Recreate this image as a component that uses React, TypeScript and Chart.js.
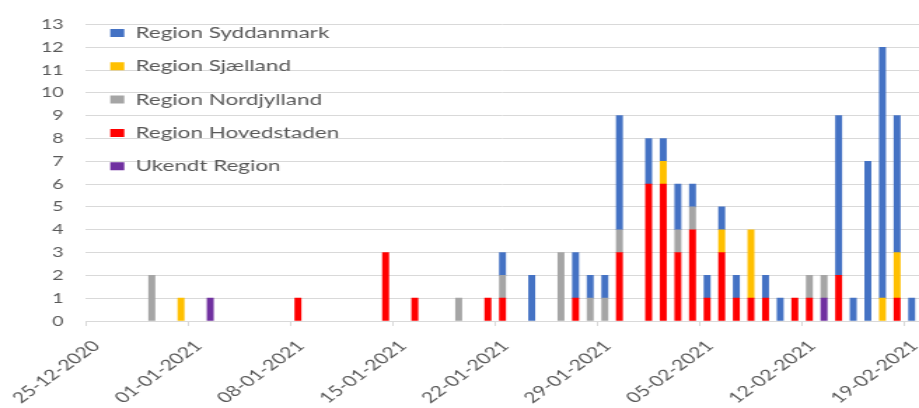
import React, { useEffect, useRef } from 'react';
import { Chart, registerables } from 'chart.js';

Chart.register(...registerables);

const categories = [
  '25-12-2020', '26-12-2020', '27-12-2020', '28-12-2020', '29-12-2020', '30-12-2020', '31-12-2020',
  '01-01-2021', '02-01-2021', '03-01-2021', '04-01-2021', '05-01-2021', '06-01-2021', '07-01-2021',
  '08-01-2021', '09-01-2021', '10-01-2021', '11-01-2021', '12-01-2021', '13-01-2021', '14-01-2021',
  '15-01-2021', '16-01-2021', '17-01-2021', '18-01-2021', '19-01-2021', '20-01-2021', '21-01-2021',
  '22-01-2021', '23-01-2021', '24-01-2021', '25-01-2021', '26-01-2021', '27-01-2021', '28-01-2021',
  '29-01-2021', '30-01-2021', '31-01-2021', '01-02-2021', '02-02-2021', '03-02-2021', '04-02-2021',
  '05-02-2021', '06-02-2021', '07-02-2021', '08-02-2021', '09-02-2021', '10-02-2021', '11-02-2021',
  '12-02-2021', '13-02-2021', '14-02-2021', '15-02-2021', '16-02-2021', '17-02-2021', '18-02-2021',
  '19-02-2021',
];

const tickLabels = [
  '25-12-2020', '01-01-2021', '08-01-2021', '15-01-2021', '22-01-2021',
  '29-01-2021', '05-02-2021', '12-02-2021', '19-02-2021',
];

const syddanmark = [
  0, 0, 0, 0, 0, 0, 0,
  0, 0, 0, 0, 0, 0, 0,
  0, 0, 0, 0, 0, 0, 0,
  0, 0, 0, 0, 0, 0, 0,
  1, 0, 2, 0, 0, 2, 1,
  1, 5, 0, 2, 1, 2, 1,
  1, 1, 1, 0, 1, 1, 0,
  0, 0, 7, 1, 7, 11, 6,
  1,
];

const sjaelland = [
  0, 0, 0, 0, 0, 0, 1,
  0, 0, 0, 0, 0, 0, 0,
  0, 0, 0, 0, 0, 0, 0,
  0, 0, 0, 0, 0, 0, 0,
  0, 0, 0, 0, 0, 0, 0,
  0, 0, 0, 0, 1, 0, 0,
  0, 1, 0, 3, 0, 0, 0,
  0, 0, 0, 0, 0, 1, 2,
  0,
];

const nordjylland = [
  0, 0, 0, 0, 2, 0, 0,
  0, 0, 0, 0, 0, 0, 0,
  0, 0, 0, 0, 0, 0, 0,
  0, 0, 0, 0, 1, 0, 0,
  1, 0, 0, 0, 3, 0, 1,
  1, 1, 0, 0, 0, 1, 1,
  0, 0, 0, 0, 0, 0, 0,
  1, 1, 0, 0, 0, 0, 0,
  0,
];

const hovedstaden = [
  0, 0, 0, 0, 0, 0, 0,
  0, 0, 0, 0, 0, 0, 0,
  1, 0, 0, 0, 0, 0, 3,
  0, 1, 0, 0, 0, 0, 1,
  1, 0, 0, 0, 0, 1, 0,
  0, 3, 0, 6, 6, 3, 4,
  1, 3, 1, 1, 1, 0, 1,
  1, 0, 2, 0, 0, 0, 1,
  0,
];

const ukendt = [
  0, 0, 0, 0, 0, 0, 0,
  0, 1, 0, 0, 0, 0, 0,
  0, 0, 0, 0, 0, 0, 0,
  0, 0, 0, 0, 0, 0, 0,
  0, 0, 0, 0, 0, 0, 0,
  0, 0, 0, 0, 0, 0, 0,
  0, 0, 0, 0, 0, 0, 0,
  0, 1, 0, 0, 0, 0, 0,
  0,
];

const TEXT = '#595959';
const GRID = '#d9d9d9';
const FONT = 'Lato';

const nz = (arr: number[]) => arr.map((v) => (v === 0 ? null : v));

export default function App() {
  const ref = useRef<HTMLCanvasElement | null>(null);

  useEffect(() => {
    if (!ref.current) return;
    const chart = new Chart(ref.current, {
      type: 'bar',
      data: {
        labels: categories,
        datasets: [
          { label: 'Ukendt Region', data: nz(ukendt), backgroundColor: '#7030A0' },
          { label: 'Region Hovedstaden', data: nz(hovedstaden), backgroundColor: '#FF0000' },
          { label: 'Region Nordjylland', data: nz(nordjylland), backgroundColor: '#A5A5A5' },
          { label: 'Region Sjælland', data: nz(sjaelland), backgroundColor: '#FFC000' },
          { label: 'Region Syddanmark', data: nz(syddanmark), backgroundColor: '#4472C4' },
        ],
      },
      options: {
        responsive: false,
        animation: false,
        devicePixelRatio: 1,
        layout: { padding: { top: 22, left: 0, right: 0, bottom: 0 } },
        datasets: { bar: { barThickness: 4.3, borderWidth: 0 } },
        plugins: {
          legend: {
            position: 'chartArea',
            align: 'start',
            reverse: true,
            title: { display: true, text: '', padding: 0, font: { size: 6.4 } },
            labels: {
              boxWidth: 10,
              boxHeight: 8,
              padding: 17.3,
              color: TEXT,
              font: { family: FONT, size: 16 },
            },
          },
          tooltip: { enabled: false },
        },
        scales: {
          x: {
            stacked: true,
            offset: true,
            grid: {
              offset: true,
              drawOnChartArea: false,
              drawTicks: true,
              tickLength: 5,
              color: (ctx: any) => (ctx.index % 7 === 0 ? GRID : 'rgba(0,0,0,0)'),
            },
            border: { display: true, color: GRID },
            ticks: {
              autoSkip: false,
              maxRotation: 45,
              minRotation: 45,
              labelOffset: 2,
              padding: 11,
              color: TEXT,
              font: { family: FONT, size: 15 },
              callback: (_v: any, i: number) => (i % 7 === 0 ? tickLabels[i / 7] : ''),
            },
            afterFit: (s: any) => {
              s.height = 87;
              s.paddingLeft = 0;
              s.paddingRight = 0;
            },
          },
          y: {
            stacked: true,
            min: 0,
            max: 13,
            ticks: {
              stepSize: 1,
              padding: 16,
              color: TEXT,
              font: { family: FONT, size: 14 },
            },
            grid: { color: GRID, drawTicks: false },
            border: { display: false },
            afterFit: (s: any) => {
              s.width = 61.4;
            },
          },
        },
      },
    });
    return () => chart.destroy();
  }, []);

  return (
    <div
      style={{
        position: 'absolute',
        left: 0,
        top: 0,
        width: 656,
        height: 408,
        transform: 'scaleX(1.40091)',
        transformOrigin: '0 0',
      }}
    >
      <canvas ref={ref} width={656} height={408} />
    </div>
  );
}
